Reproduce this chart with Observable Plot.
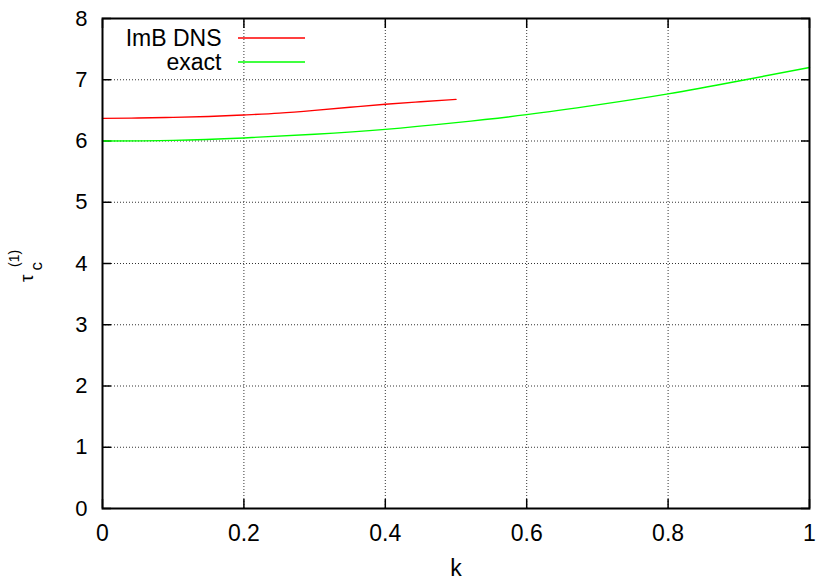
<!DOCTYPE html>
<html><head><meta charset="utf-8">
<script src="https://cdn.jsdelivr.net/npm/d3@7"></script>
<script src="https://cdn.jsdelivr.net/npm/@observablehq/plot@0.6"></script>
<style>body{margin:0;background:#fff}</style>
</head><body><div id="chart"></div>
<script>
const dnsK   = [0, 0.05, 0.1, 0.15, 0.2, 0.25, 0.3, 0.35, 0.4, 0.45, 0.5];
const dnsTau = [6.37, 6.375, 6.385, 6.40, 6.425, 6.455, 6.50, 6.55, 6.60, 6.64, 6.68];
const exactK   = [0, 0.1, 0.2, 0.3, 0.4, 0.5, 0.6, 0.7, 0.8, 0.9, 1.0];
const exactTau = [6.00, 6.01, 6.05, 6.11, 6.19, 6.30, 6.43, 6.59, 6.77, 6.98, 7.20];
const xTicks = [0, 0.2, 0.4, 0.6, 0.8, 1];
const yTicks = [0, 1, 2, 3, 4, 5, 6, 7, 8];
const seriesNames = ["ImB DNS", "exact"];
const seriesColors = ["#ff0000", "#00ff00"];
const yLabelParts = ["τ", "c", "(1)"];

const dns = dnsK.map((k, i) => ({k, tau: dnsTau[i]}));
const exact = exactK.map((k, i) => ({k, tau: exactTau[i]}));

const FONT = "'Liberation Sans', Arial, Helvetica, sans-serif";
const gridStyle = {stroke: "#333", strokeDasharray: "1,2", strokeWidth: 1};
const tickOnly = {tickSize: -9, fill: "none", label: null, stroke: "#000", strokeWidth: 1.5};

const plot = Plot.plot({
  width: 818, height: 580,
  marginLeft: 102, marginRight: 9, marginTop: 18, marginBottom: 72,
  style: {fontFamily: FONT, fontSize: "23px", background: "white", color: "#000"},
  x: {domain: [0, 1]},
  y: {domain: [0, 8]},
  marks: [
    Plot.ruleX(xTicks.slice(1, -1), gridStyle),
    Plot.ruleY(yTicks.slice(1, -1), gridStyle),
    Plot.axisX({ticks: xTicks, anchor: "bottom", ...tickOnly}),
    Plot.axisX({ticks: xTicks, anchor: "top", ...tickOnly}),
    Plot.axisY({ticks: yTicks, anchor: "left", ...tickOnly}),
    Plot.axisY({ticks: yTicks, anchor: "right", ...tickOnly}),
    Plot.axisX({ticks: xTicks, anchor: "bottom", tickSize: 0, tickPadding: 16, label: null, fontSize: 23, tickFormat: d => String(d)}),
    Plot.axisY({ticks: yTicks, anchor: "left", tickSize: 0, tickPadding: 15, label: null, fontSize: 22, tickFormat: d => String(d)}),
    Plot.line(dns, {x: "k", y: "tau", stroke: seriesColors[0], strokeWidth: 1.4, curve: "natural"}),
    Plot.line(exact, {x: "k", y: "tau", stroke: seriesColors[1], strokeWidth: 1.4, curve: "natural"}),
    Plot.frame({stroke: "#000", strokeWidth: 2}),
    Plot.text(["k"], {frameAnchor: "bottom", dy: 60, fontSize: 23, lineAnchor: "middle"}),
    Plot.text([seriesNames[0]], {frameAnchor: "top-left", textAnchor: "end", lineAnchor: "middle", dx: 119, dy: 20, fontSize: 23}),
    Plot.text([seriesNames[1]], {frameAnchor: "top-left", textAnchor: "end", lineAnchor: "middle", dx: 119, dy: 44, fontSize: 23})
  ]
});
document.getElementById("chart").appendChild(plot);

const svg = d3.select(plot);

// legend swatches
const swatchY = [38, 62];
seriesColors.forEach((c, i) => {
  svg.append("line").attr("x1", 238).attr("x2", 305)
    .attr("y1", swatchY[i]).attr("y2", swatchY[i])
    .attr("stroke", c).attr("stroke-width", 1.4);
});

// rotated y-axis label τ_c^(1)
const labelSpec = [
  {t: yLabelParts[0], bx: 33, sy: 282, size: 19},
  {t: yLabelParts[1], bx: 41.5, sy: 270.5, size: 17},
  {t: yLabelParts[2], bx: 19, sy: 267, size: 14}
];
labelSpec.forEach(s => {
  svg.append("text")
    .attr("transform", `translate(${s.bx},${s.sy}) rotate(-90)`)
    .attr("text-anchor", "start")
    .attr("font-family", FONT)
    .attr("font-size", s.size)
    .attr("fill", "#000")
    .text(s.t);
});
</script>
</body></html>
